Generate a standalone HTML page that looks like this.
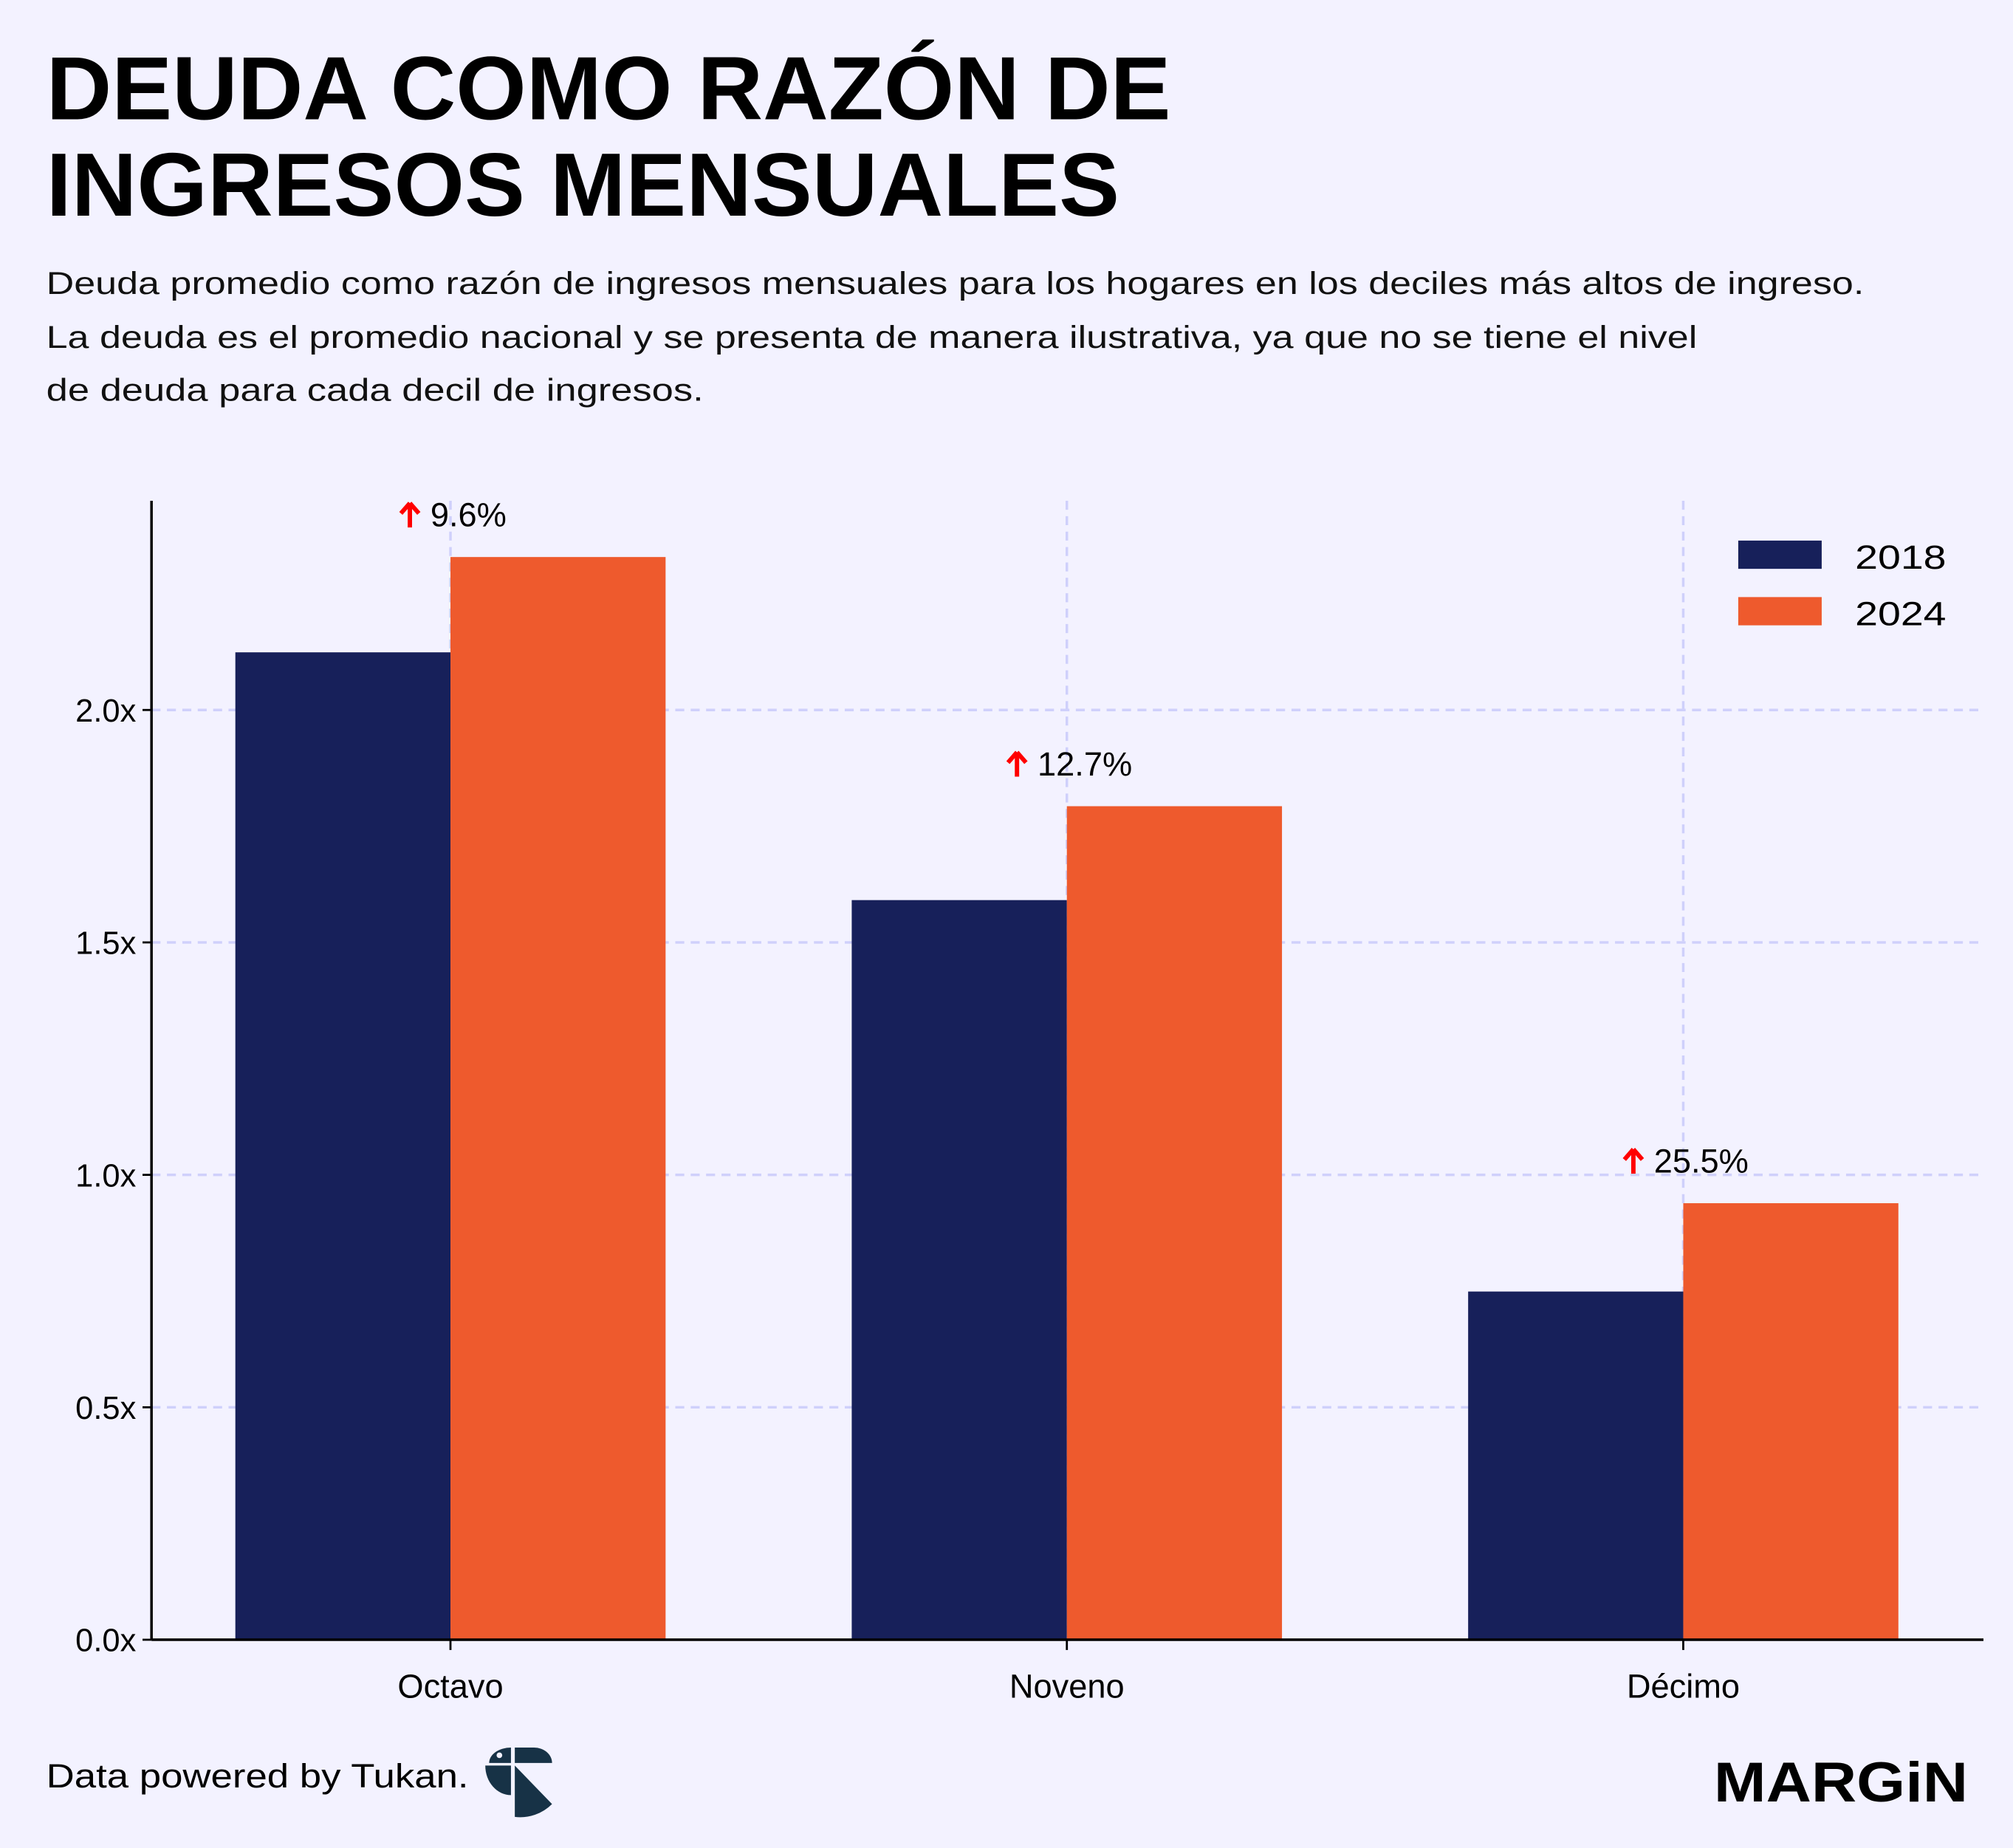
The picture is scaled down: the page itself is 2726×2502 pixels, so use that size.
<!DOCTYPE html>
<html><head><meta charset="utf-8"><style>
html,body{margin:0;padding:0;background:#f3f2ff;}
svg{display:block;}
text{font-family:"Liberation Sans",sans-serif;}
</style></head><body>
<svg id="chart" width="2726" height="2502" viewBox="0 0 1568 1439.2" xmlns="http://www.w3.org/2000/svg">
<rect width="1568" height="1439.2" fill="#f3f2ff"/>
<text x="36" y="93" font-size="70" font-weight="bold" textLength="876" lengthAdjust="spacingAndGlyphs">DEUDA COMO RAZÓN DE</text>
<text x="36" y="168" font-size="70" font-weight="bold" textLength="836" lengthAdjust="spacingAndGlyphs">INGRESOS MENSUALES</text>
<g font-size="24.5" fill="#111">
<text x="36" y="229" textLength="1416" lengthAdjust="spacingAndGlyphs">Deuda promedio como razón de ingresos mensuales para los hogares en los deciles más altos de ingreso.</text>
<text x="36" y="271" textLength="1286" lengthAdjust="spacingAndGlyphs">La deuda es el promedio nacional y se presenta de manera ilustrativa, ya que no se tiene el nivel</text>
<text x="36" y="312" textLength="512" lengthAdjust="spacingAndGlyphs">de deuda para cada decil de ingresos.</text>
</g>
<g id="grid"></g>
<g id="bars"></g>
<g id="labels"></g>
<g id="axes"></g>
<g>
<g><rect x="1354" y="421" width="65" height="22" fill="#17205a"/><text x="1445" y="443" font-size="26" textLength="71" lengthAdjust="spacingAndGlyphs">2018</text></g>
<g><rect x="1354" y="465" width="65" height="22" fill="#ee5a2d"/><text x="1445" y="487" font-size="26" textLength="71" lengthAdjust="spacingAndGlyphs">2024</text></g>
</g>
<text x="36" y="1392" font-size="26" textLength="329" lengthAdjust="spacingAndGlyphs">Data powered by Tukan.</text>
<g fill="#173246">
<path d="M398 1361 L398 1373 L381 1373 A17 12 0 0 1 398 1361 Z"/>
<circle cx="389" cy="1367" r="2.2" fill="#f3f2ff"/>
<path d="M401 1361 L416 1361 A14 12 0 0 1 430 1373 L401 1373 Z"/>
<path d="M378 1375 L398 1375 L398 1398 A20 23 0 0 1 378 1375 Z"/>
<path d="M401 1375 L430 1405 A35 35 0 0 1 401 1415 Z"/>
</g>
<text x="1335" y="1403" font-size="44" font-weight="bold" textLength="198" lengthAdjust="spacingAndGlyphs">MARGiN</text>
</svg>
<script>
const categories = ["Octavo","Noveno","Décimo"];
const values2018 = [2.124, 1.591, 0.749];
const values2024 = [2.329, 1.793, 0.939];
const changeLabels = ["9.6%","12.7%","25.5%"];
const yTicks = [0, 0.5, 1.0, 1.5, 2.0];
const yTickLabels = ["0.0x","0.5x","1.0x","1.5x","2.0x"];

const NS="http://www.w3.org/2000/svg";
const x0=118, x1=1545, yBase=1277, yTop=390;
const xMin=-0.485, xMax=2.487, yMax=2.45;
const xs=v=>x0+(v-xMin)/(xMax-xMin)*(x1-x0);
const ys=v=>yBase-v/yMax*(yBase-yTop);
const bw=(xs(1)-xs(0))*0.349;
function mk(tag,attrs,parent){const e=document.createElementNS(NS,tag);for(const k in attrs)e.setAttribute(k,attrs[k]);parent.appendChild(e);return e;}
const grid=document.getElementById('grid'),bars=document.getElementById('bars'),labels=document.getElementById('labels'),axes=document.getElementById('axes');
yTicks.forEach((t,i)=>{
  if(t>0){const l=mk('line',{x1:x0,x2:x1,y1:ys(t),y2:ys(t),stroke:'#cfd0fb','stroke-width':2,'stroke-dasharray':'7 5'},grid);
  
  }
  const tk=mk('line',{x1:x0-7,x2:x0,y1:ys(t),y2:ys(t),stroke:'#000','stroke-width':1.6},axes);
  
  
  const tl=mk('text',{x:x0-12,y:ys(t)+9,'font-size':25,'text-anchor':'end'},axes);tl.textContent=yTickLabels[i];
  
  
});
categories.forEach((c,i)=>{
  const cx=xs(i);
  const g=mk('line',{x1:cx,x2:cx,y1:yTop,y2:yBase,stroke:'#cfd0fb','stroke-width':2,'stroke-dasharray':'7 5'},grid);
  
  
  const b1=mk('rect',{x:cx-bw,y:ys(values2018[i]),width:bw,height:yBase-ys(values2018[i]),fill:'#17205a'},bars);
  
  
  const b2=mk('rect',{x:cx,y:ys(values2024[i]),width:bw,height:yBase-ys(values2024[i]),fill:'#ee5a2d'},bars);
  
  
  const ly=ys(values2024[i])-24;
  const lg=mk('g',{},labels);
  
  
  const txt=mk('text',{x:cx,y:ly,'font-size':26},lg);txt.textContent=changeLabels[i];
  let w=txt.getComputedTextLength?txt.getComputedTextLength():changeLabels[i].length*14;
  if(!w) w=changeLabels[i].length*14;
  const start=cx+2-(w+24)/2;
  txt.setAttribute('x',start+24);
  const ax=start+8;
  mk('path',{d:`M${ax} ${ly-18} L${ax-7} ${ly-10} M${ax} ${ly-18} L${ax+7} ${ly-10} M${ax} ${ly-18} L${ax} ${ly+1}`,stroke:'#ff0000','stroke-width':3.4,fill:'none'},lg);
  const tk=mk('line',{x1:cx,x2:cx,y1:yBase,y2:yBase+8,stroke:'#000','stroke-width':1.6},axes);
  
  
  const xl=mk('text',{x:cx,y:yBase+45,'font-size':26,'text-anchor':'middle'},axes);xl.textContent=c;
  
  
});
const ya=mk('line',{x1:x0,x2:x0,y1:yTop,y2:yBase,stroke:'#000','stroke-width':2},axes);


const xa=mk('line',{x1:x0,x2:x1,y1:yBase,y2:yBase,stroke:'#000','stroke-width':2},axes);


</script>
</body></html>
